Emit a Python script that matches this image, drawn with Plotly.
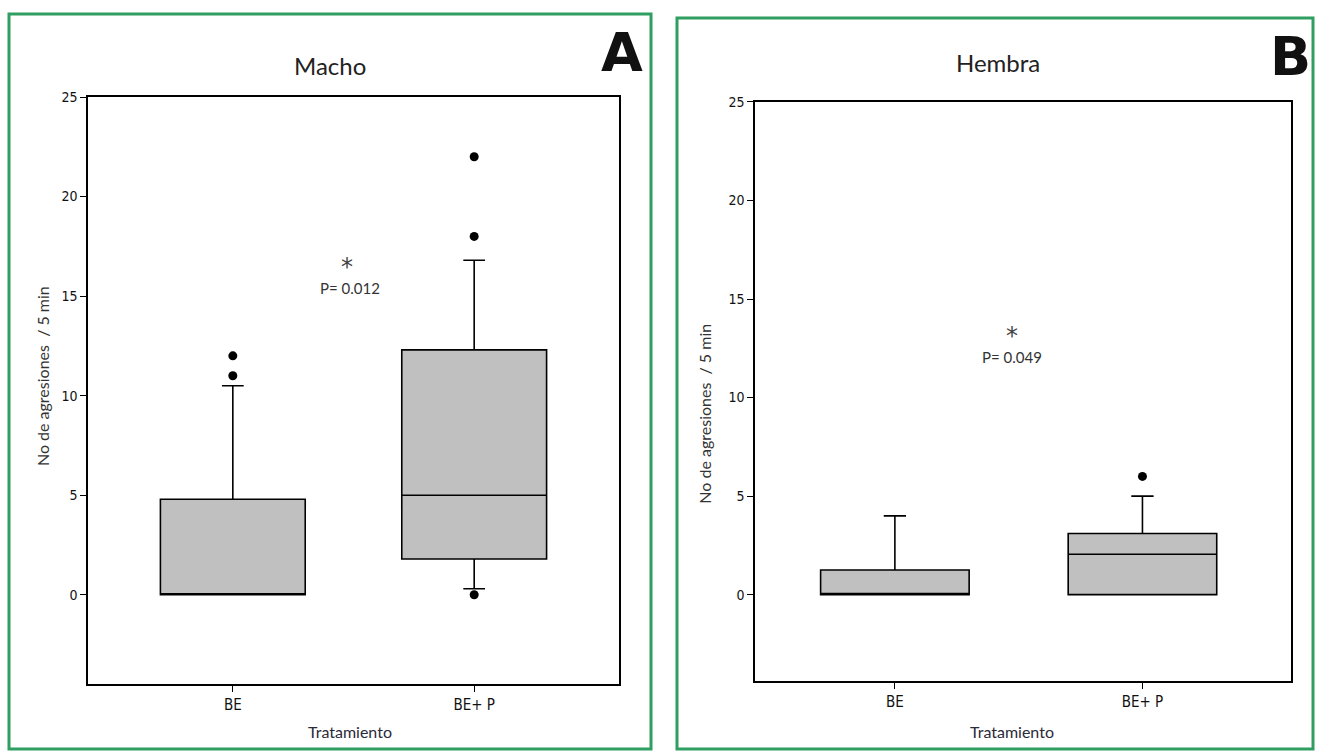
import plotly.graph_objects as go

W, H = 1321, 754

categories = ["BE", "BE+ P"]

# Panel A (Macho) box statistics
macho_q1 = [0.0, 1.8]
macho_median = [0.0, 5.0]
macho_q3 = [4.8, 12.3]
macho_lower = [0.0, 0.3]
macho_upper = [10.5, 16.8]
macho_out_x = ["BE", "BE", "BE+ P", "BE+ P", "BE+ P"]
macho_out_y = [11.0, 12.0, 0.0, 18.0, 22.0]

# Panel B (Hembra) box statistics
hembra_q1 = [0.0, 0.0]
hembra_median = [0.0, 2.05]
hembra_q3 = [1.25, 3.1]
hembra_lower = [0.0, 0.0]
hembra_upper = [4.0, 5.0]
hembra_out_x = ["BE+ P"]
hembra_out_y = [6.0]

y_ticks = [0, 5, 10, 15, 20, 25]
p_texts = ["P= 0.012", "P= 0.049"]
titles = ["Macho", "Hembra"]
letters = ["A", "B"]

GREEN = "#2f9e61"
tick_font = dict(family="Liberation Sans Narrow, DejaVu Sans Condensed, Arial Narrow, sans-serif", size=14, color="#111")

fig = go.Figure()

def add_panel(q1, med, q3, lo, up, ox, oy, xa, ya):
    fig.add_trace(go.Box(
        x=categories, q1=q1, median=med, q3=q3, lowerfence=lo, upperfence=up,
        fillcolor="#c0c0c0", line=dict(color="black", width=1.6),
        width=0.6, whiskerwidth=0.15, boxpoints=False,
        xaxis=xa, yaxis=ya, showlegend=False, hoverinfo="skip"))
    fig.add_trace(go.Scatter(
        x=ox, y=oy, mode="markers",
        marker=dict(color="black", size=9, symbol="circle"),
        xaxis=xa, yaxis=ya, showlegend=False, hoverinfo="skip"))

add_panel(macho_q1, macho_median, macho_q3, macho_lower, macho_upper,
          macho_out_x, macho_out_y, "x", "y")
add_panel(hembra_q1, hembra_median, hembra_q3, hembra_lower, hembra_upper,
          hembra_out_x, hembra_out_y, "x2", "y2")

def px_x(p):
    return p / W

def px_y(p):
    return 1 - p / H

axis_common = dict(showline=True, linecolor="black", linewidth=1.5, mirror=True,
                   showgrid=False, zeroline=False, ticks="outside", ticklen=6,
                   tickcolor="black", tickwidth=1.3, tickfont=tick_font)

fig.update_layout(
    width=W, height=H,
    margin=dict(l=0, r=0, t=0, b=0),
    paper_bgcolor="white", plot_bgcolor="white",
    xaxis=dict(domain=[px_x(88), px_x(619)], range=[-0.6, 1.6], type="category",
               anchor="y", **axis_common),
    yaxis=dict(domain=[px_y(683), px_y(90)], range=[-4.47, 25], tickvals=y_ticks,
               anchor="x", **axis_common),
    xaxis2=dict(domain=[px_x(755), px_x(1291)], range=[-0.565, 1.6], type="category",
                anchor="y2", **axis_common),
    yaxis2=dict(domain=[px_y(680), px_y(95)], range=[-4.37, 25], tickvals=y_ticks,
                anchor="x2", **axis_common),
)
fig.update_xaxes(tickfont=dict(size=15))

shapes = [
    dict(type="rect", xref="paper", yref="paper", x0=px_x(9), x1=px_x(651),
         y0=px_y(749), y1=px_y(6), line=dict(color=GREEN, width=3)),
    dict(type="rect", xref="paper", yref="paper", x0=px_x(677), x1=px_x(1313),
         y0=px_y(749), y1=px_y(10), line=dict(color=GREEN, width=3)),
]
fig.update_layout(shapes=shapes)

ann = []

def text_at(cx, cy, text, font, angle=0):
    ann.append(dict(x=px_x(cx), y=px_y(cy), xref="paper", yref="paper", text=text,
                    showarrow=False, font=font, xanchor="center", yanchor="middle",
                    textangle=angle))

title_font = dict(family="Lato, Open Sans, sans-serif", size=24, color="#222")
lab_font = dict(family="Lato, Open Sans, sans-serif", size=16, color="#333")
xt_font = dict(family="Lato, Open Sans, sans-serif", size=16, color="#2a2a3a")
star_font = dict(family="DejaVu Sans", size=24, color="#444")
p_font = dict(family="Lato, Open Sans, sans-serif", size=15, color="#333")

# panel titles
text_at(330, 58, titles[0], title_font)
text_at(998, 55, titles[1], title_font)
# big panel letters
text_at(622, 45, "<b>%s</b>" % letters[0], dict(family="DejaVu Sans", size=54, color="#111"))
text_at(1290, 49, "<b>%s</b>" % letters[1], dict(family="DejaVu Sans", size=54, color="#111"))
# y-axis titles
text_at(42, 372, "No de agresiones  / 5 min", lab_font, -90)
text_at(705, 410, "No de agresiones  / 5 min", lab_font, -90)
# x-axis titles
text_at(350, 731, "Tratamiento", xt_font)
text_at(1012, 731, "Tratamiento", xt_font)
# significance
text_at(347, 262, "*", star_font)
text_at(350, 283, p_texts[0], p_font)
text_at(1012, 332, "*", star_font)
text_at(1012, 353, p_texts[1], p_font)
fig.update_layout(annotations=ann)

fig.write_html("out.html")
